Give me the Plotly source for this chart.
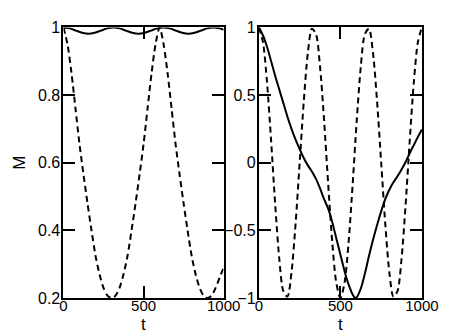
import plotly.graph_objects as go

# left panel
t_left_dash = [0, 25, 50, 75, 100, 125, 150, 175, 200, 225, 250, 275, 300,
               325, 350, 375, 400, 425, 450, 475, 500, 525, 550, 575, 600,
               625, 650, 675, 700, 725, 750, 775, 800, 825, 850, 875, 900,
               925, 950, 975, 1000]
m_left_dash = [1.0, 0.95, 0.865, 0.76, 0.655, 0.565, 0.48, 0.40, 0.325, 0.27, 0.23, 0.207, 0.2,
               0.207, 0.23, 0.27, 0.325, 0.40, 0.48, 0.565, 0.655, 0.76, 0.865, 0.95, 1.0,
               0.95, 0.865, 0.76, 0.655, 0.565, 0.48, 0.40, 0.325, 0.27, 0.23, 0.207, 0.2,
               0.207, 0.23, 0.26, 0.29]

t_left_solid = [0, 39, 78, 117, 156, 195, 234, 273, 312, 351, 390, 429, 468, 507,
                546, 585, 624, 663, 702, 741, 780, 819, 858, 897, 936, 975, 1000]
m_left_solid = [1.0, 0.997, 0.9905, 0.984, 0.981, 0.984, 0.9905, 0.997, 1.0, 0.997, 0.9905, 0.984, 0.981, 0.984,
                0.9905, 0.997, 1.0, 0.997, 0.9905, 0.984, 0.981, 0.984, 0.9905, 0.997, 1.0, 0.997, 0.993]

# right panel
t_right = [0, 25, 50, 75, 100, 125, 150, 175, 200, 225, 250, 275, 300, 325, 350,
           375, 400, 425, 450, 475, 500, 525, 550, 575, 600, 625, 650, 675, 700,
           725, 750, 775, 800, 825, 850, 875, 900, 925, 950, 975, 1000]
m_right_dash = [1.0, 0.89, 0.59, 0.16, -0.31, -0.71, -0.95, -0.99, -0.81, -0.45, 0.0, 0.45, 0.81, 0.99, 0.95,
                0.71, 0.31, -0.16, -0.59, -0.89, -1.0, -0.89, -0.59, -0.16, 0.31, 0.71, 0.95, 0.99, 0.81,
                0.45, 0.0, -0.45, -0.81, -0.99, -0.95, -0.71, -0.31, 0.16, 0.59, 0.89, 1.0]

t_right_solid = [0, 25, 50, 75, 100, 125, 150, 175, 200, 225, 250, 275, 300, 325, 350,
                 375, 400, 425, 450, 475, 500, 525, 550, 575, 590, 600, 625, 650, 675, 700,
                 725, 750, 775, 800, 825, 850, 875, 900, 925, 950, 975, 1000]
m_right_solid = [1.0, 0.94, 0.855, 0.75, 0.64, 0.54, 0.44, 0.34, 0.25, 0.17, 0.10, 0.035, -0.02, -0.065, -0.12,
                 -0.19, -0.27, -0.34, -0.44, -0.56, -0.68, -0.80, -0.90, -0.975, -1.0, -0.995, -0.93, -0.82, -0.69, -0.57,
                 -0.46, -0.36, -0.27, -0.20, -0.145, -0.10, -0.05, 0.005, 0.07, 0.13, 0.19, 0.245]

x_ticks = [0, 500, 1000]
y_ticks_left = [0.2, 0.4, 0.6, 0.8, 1]
y_ticks_right = [-1, -0.5, 0, 0.5, 1]

FONT = "Liberation Sans, Arial, sans-serif"
W, H = 450, 336

fig = go.Figure()
dash_line = dict(color="black", width=2, dash="6px,4px", shape="spline", smoothing=0.8)
solid_line = dict(color="black", width=2, shape="spline", smoothing=0.8)

fig.add_trace(go.Scatter(x=t_left_dash, y=m_left_dash, mode="lines", line=dash_line, xaxis="x", yaxis="y"))
fig.add_trace(go.Scatter(x=t_left_solid, y=m_left_solid, mode="lines", line=solid_line, xaxis="x", yaxis="y"))
fig.add_trace(go.Scatter(x=t_right, y=m_right_dash, mode="lines", line=dash_line, xaxis="x2", yaxis="y2"))
fig.add_trace(go.Scatter(x=t_right_solid, y=m_right_solid, mode="lines", line=solid_line, xaxis="x2", yaxis="y2"))

ax = dict(showline=True, linecolor="black", linewidth=2, mirror="ticks", ticks="inside",
          ticklen=12, tickwidth=2, tickcolor="black", showgrid=False, zeroline=False,
          tickfont=dict(size=16, color="black", family=FONT))
xax = dict(ax, ticklabelstandoff=-7, tickfont=dict(size=15, color="black", family=FONT))
yax = dict(ax, ticklabelstandoff=-2)
ydom = [1 - 297 / H, 1 - 12 / H]
left_dom = [54 / W, 222 / W]
right_dom = [259 / W, 430 / W]

fig.update_layout(
    width=W, height=H,
    margin=dict(l=0, r=0, t=0, b=0),
    paper_bgcolor="white", plot_bgcolor="white",
    showlegend=False,
    font=dict(family=FONT, color="black"),
    xaxis=dict(xax, domain=left_dom, range=[0, 1000], tickvals=x_ticks),
    yaxis=dict(yax, domain=ydom, range=[0.2, 1], tickvals=y_ticks_left, anchor="x"),
    xaxis2=dict(xax, domain=right_dom, range=[0, 1000], tickvals=x_ticks, anchor="y2"),
    yaxis2=dict(yax, domain=ydom, range=[-1, 1], tickvals=y_ticks_right, anchor="x2"),
)

title_font = dict(size=17, color="black", family=FONT)
for dom in (left_dom, right_dom):
    fig.add_annotation(text="t", x=(dom[0] + dom[1]) / 2, y=0, xref="paper", yref="paper",
                       showarrow=False, font=title_font, xanchor="center", yanchor="bottom",
                       borderpad=0)
fig.add_annotation(text="M", x=8 / W, y=1 - 155 / H, xref="paper", yref="paper", textangle=-90,
                   showarrow=False, font=title_font, xanchor="center", yanchor="middle")

fig.write_html("out.html")
